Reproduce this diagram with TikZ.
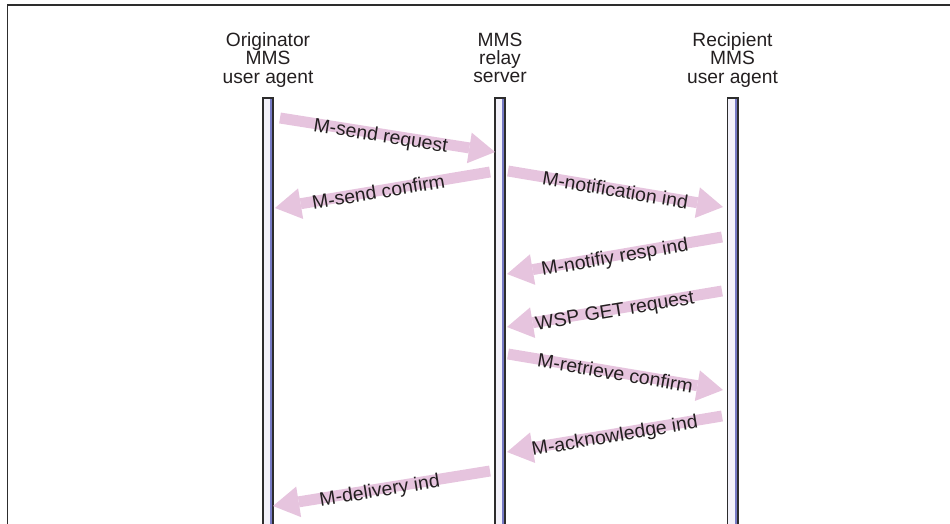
\documentclass[tikz,border=0pt]{standalone}
\usepackage{fontspec}
\setmainfont{Liberation Sans}
\usetikzlibrary{arrows.meta}
\definecolor{msgpink}{RGB}{230,196,222}
\definecolor{barfill}{RGB}{243,242,250}
\definecolor{barblue}{RGB}{118,122,196}
\definecolor{ink}{RGB}{35,31,32}
\definecolor{framegray}{RGB}{45,45,45}
\begin{document}
\begin{tikzpicture}[x=1pt,y=-1pt,
  msg/.style={draw=msgpink, line width=11pt, line cap=butt,
    -{Triangle[width=31pt,length=26pt,line width=0pt]}},
  lab/.style={sloped, anchor=base, yshift=-8pt, text=ink,
    font=\fontsize{19.5}{18.5}\selectfont, inner sep=0pt},
  head/.style={anchor=north, align=center, text=ink,
    font=\fontsize{19.2}{18.3}\selectfont, inner sep=0pt},
  frameline/.style={draw=framegray, line width=1.5pt}
]
\useasboundingbox (0,0) rectangle (950,524);
% frame
\draw[frameline] (950,5) -- (7.5,5) -- (7.5,524);
% lifelines
\foreach \x in {262,494,726.5} {
  \fill[barfill] (\x,97) rectangle (\x+12,524);
  \fill[barblue] (\x+8.2,97) rectangle (\x+10.8,524);
  \draw[framegray, line width=1.7pt] (\x+0.9,524) |- (\x+11.3,97.8) -- (\x+11.3,524);
}
% headers
\node[head] (orig) at (268,32.5) {Originator\\MMS\\user agent};
\node[head] (relay) at (500,32.5) {MMS\\relay\\server};
\node[head] (recip) at (732.5,32.5) {Recipient\\MMS\\user agent};
% message end points
\coordinate (t1) at (280,118);   \coordinate (h1) at (495,152);
\coordinate (t2) at (490,172);   \coordinate (h2) at (275,208);
\coordinate (t3) at (508,171);   \coordinate (h3) at (723,207);
\coordinate (t4) at (722,237);   \coordinate (h4) at (507,274);
\coordinate (t5) at (722,291);   \coordinate (h5) at (507,327);
\coordinate (t6) at (508,354);   \coordinate (h6) at (723,390);
\coordinate (t7) at (722,416);   \coordinate (h7) at (507,452);
\coordinate (t8) at (490,471);   \coordinate (h8) at (273,506);
% messages
\draw[msg] (t1) -- (h1);
\draw[msg] (t2) -- (h2);
\draw[msg] (t3) -- (h3);
\draw[msg] (t4) -- (h4);
\draw[msg] (t5) -- (h5);
\draw[msg] (t6) -- (h6);
\draw[msg] (t7) -- (h7);
\draw[msg] (t8) -- (h8);
% labels
\path (t1) -- node[lab, pos=0.47] (l1) {M-send request} (h1);
\path (t2) -- node[lab, pos=0.52] (l2) {M-send confirm} (h2);
\path (t3) -- node[lab] (l3) {M-notification ind} (h3);
\path (t4) -- node[lab] (l4) {M-notifiy resp ind} (h4);
\path (t5) -- node[lab] (l5) {WSP GET request} (h5);
\path (t6) -- node[lab] (l6) {M-retrieve confirm} (h6);
\path (t7) -- node[lab] (l7) {M-acknowledge ind} (h7);
\path (t8) -- node[lab, pos=0.51] (l8) {M-delivery ind} (h8);
\end{tikzpicture}
\end{document}
